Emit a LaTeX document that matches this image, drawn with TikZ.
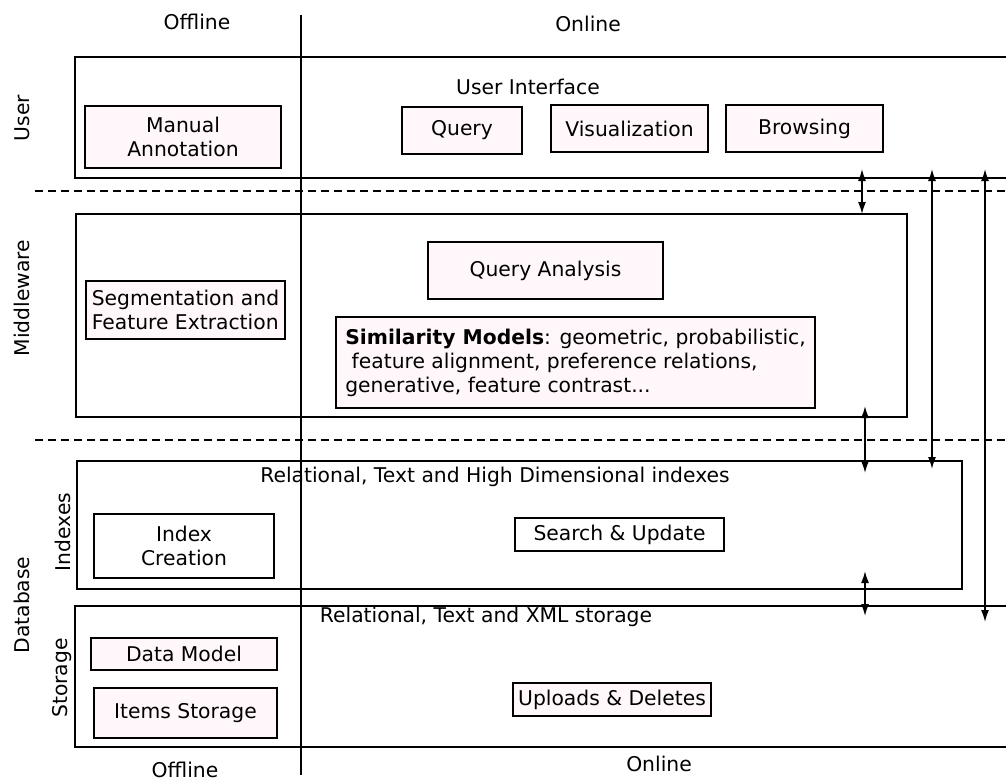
\documentclass[tikz,border=0pt]{standalone}
\usepackage{fontspec}
\setmainfont{DejaVu Sans}
\usetikzlibrary{arrows.meta}
\definecolor{boxpink}{RGB}{255,247,250}

\begin{document}
\begin{tikzpicture}[x=1pt,y=-1pt,
  font=\fontsize{20.3}{24}\selectfont,
  box/.style={draw, fill=boxpink, line width=1.4pt, inner sep=0pt},
  frame/.style={draw, line width=2pt},
  lab/.style={inner sep=0pt},
  side/.style={inner sep=0pt, rotate=90},
  link/.style={{Latex[length=12pt,width=8pt]}-{Latex[length=12pt,width=8pt]}, line width=1.6pt}]
  \useasboundingbox (0,0) rectangle (1006,782);

  % layers
  \draw[frame] (1006,57) -- (75,57) -- (75,178) -- (1006,178);
  \draw[frame, line width=2.8pt] (76,214) rectangle (907,417);
  \draw[frame] (77,461) rectangle (962,589);
  \draw[frame] (1006,606) -- (75,606) -- (75,747) -- (1006,747);
  \foreach \y in {191,440}
    \draw[line width=1.3pt, dash pattern=on 8pt off 5pt] (35,\y) -- (1006,\y);
  \draw[line width=2pt] (301,15) -- (301,775);

  % headings
  \node[lab] (offtop) at (197,22) {Offline};
  \node[lab] (ontop) at (588,24) {Online};
  \node[lab] (offbot) at (185,770) {Offline};
  \node[lab] (onbot) at (659,764) {Online};
  \node[side] (user) at (22,118) {User};
  \node[side] (mid) at (22,298) {Middleware};
  \node[side] (db) at (22,605) {Database};
  \node[side] (ixs) at (63,532) {Indexes};
  \node[side] (sto) at (62,678) {Storage};
  \node[lab] (ui) at (528,87) {User Interface};
  \node[lab] (relix) at (495,477) {Relational, Text and High Dimensional indexes};
  \node[lab] (relst) at (486,617) {Relational, Text and XML storage};

  % boxes
  \node[box, minimum width=196, minimum height=62, align=center] (ann) at (183,137) {Manual\\Annotation};
  \node[box, minimum width=120, minimum height=47] (query) at (462,130.5) {Query};
  \node[box, minimum width=157, minimum height=47] (vis) at (629.5,128.5) {Visualization};
  \node[box, minimum width=157, minimum height=47] (brow) at (804.5,128.5) {Browsing};
  \node[box, minimum width=235, minimum height=57] (qa) at (545.5,270.5) {Query Analysis};
  \node[box, minimum width=199, minimum height=58, align=left] (seg) at (185.5,310) {Segmentation and\\Feature Extraction};
  \node[box, minimum width=479, minimum height=91, align=left] (sim) at (575.5,362.5)
    {\textbf{Similarity Models}: geometric, probabilistic,\\\ feature alignment, preference relations,\\generative, feature contrast...};
  \node[box, fill=white, line width=2.6pt, minimum width=180, minimum height=64, align=center] (idx) at (184,546) {Index\\Creation};
  \node[box, fill=white, minimum width=209, minimum height=33] (su) at (619.5,534.5) {Search \& Update};
  \node[box, minimum width=186, minimum height=32] (dm) at (184,654) {Data Model};
  \node[box, minimum width=183, minimum height=50] (items) at (185.5,713) {Items Storage};
  \node[box, minimum width=198, minimum height=33] (upd) at (612,699.5) {Uploads \& Deletes};

  % links
  \coordinate (a1t) at (862,169); \coordinate (a1b) at (862,214);
  \coordinate (a2t) at (932,169); \coordinate (a2b) at (932,469);
  \coordinate (a3t) at (985,169); \coordinate (a3b) at (985,622);
  \coordinate (a4t) at (865,406); \coordinate (a4b) at (865,473);
  \coordinate (a5t) at (865,571); \coordinate (a5b) at (865,616);
  \foreach \a in {1,...,5}
    \draw[link] (a\a t) -- (a\a b);
\end{tikzpicture}
\end{document}
